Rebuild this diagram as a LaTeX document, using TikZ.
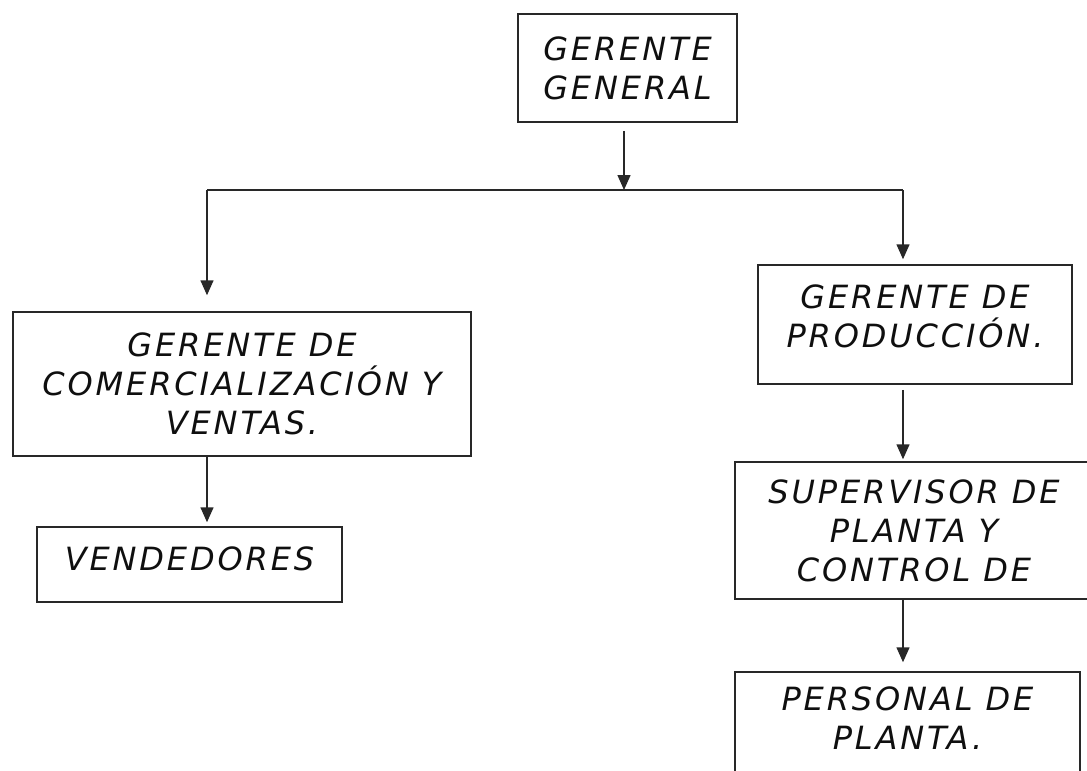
\documentclass[tikz,border=0pt]{standalone}
\usepackage{fontspec}
\setmainfont{DejaVu Sans}[LetterSpace=9]
\usetikzlibrary{arrows.meta, positioning, calc}
\definecolor{orgline}{RGB}{40,40,40}
\definecolor{orgtext}{RGB}{15,15,15}

\begin{document}
\begin{tikzpicture}[
  x=1pt, y=-1pt,
  every node/.style={font=\itshape\fontsize{32}{39}\selectfont, text=orgtext},
  orgbox/.style={draw=orgline, line width=1.5pt, align=center, inner sep=0pt},
  link/.style={draw=orgline, line width=1.5pt},
  >={Triangle[length=15pt, width=13pt]}
]
\useasboundingbox (0,0) rectangle (1087,771);

% boxes
\node[orgbox, minimum width=219pt, minimum height=108pt] (gg) at (627.5, 68)
  {GERENTE\\GENERAL};
\node[orgbox, minimum width=458pt, minimum height=144pt] (cv) at (242, 384)
  {GERENTE DE\\COMERCIALIZACIÓN Y\\VENTAS.};
\node[orgbox, minimum width=305pt, minimum height=75pt, text depth=12pt] (vend) at (189.5, 564.5)
  {VENDEDORES};
\node[orgbox, minimum width=314pt, minimum height=119pt, text depth=17pt] (gp) at (915, 324.5)
  {GERENTE DE\\PRODUCCIÓN.};
\node[orgbox, minimum width=358pt, minimum height=137pt, text depth=-6pt] (sup) at (914, 530.5)
  {SUPERVISOR DE\\PLANTA Y\\CONTROL DE};
\node[orgbox, minimum width=345pt, minimum height=104pt, text depth=12pt] (per) at (907.5, 724)
  {PERSONAL DE\\PLANTA.};

% branch points
\coordinate (split) at (624, 190);
\coordinate (lc) at (207, 190);
\coordinate (rc) at (903, 190);

% connectors
\draw[link, ->, shorten <=8pt] (gg.south -| split) -- (split);
\draw[link] (lc) -- (rc);
\draw[link, ->, shorten >=16pt] (lc) -- (lc |- cv.north);
\draw[link, ->, shorten >=5pt] (rc) -- (rc |- gp.north);
\draw[link, ->, shorten >=4pt] (cv.south -| lc) -- (vend.north -| lc);
\draw[link, ->, shorten <=5pt, shorten >=2pt] (gp.south -| rc) -- (sup.north -| rc);
\draw[link, ->, shorten >=9pt] (sup.south -| rc) -- (per.north -| rc);

\end{tikzpicture}
\end{document}
